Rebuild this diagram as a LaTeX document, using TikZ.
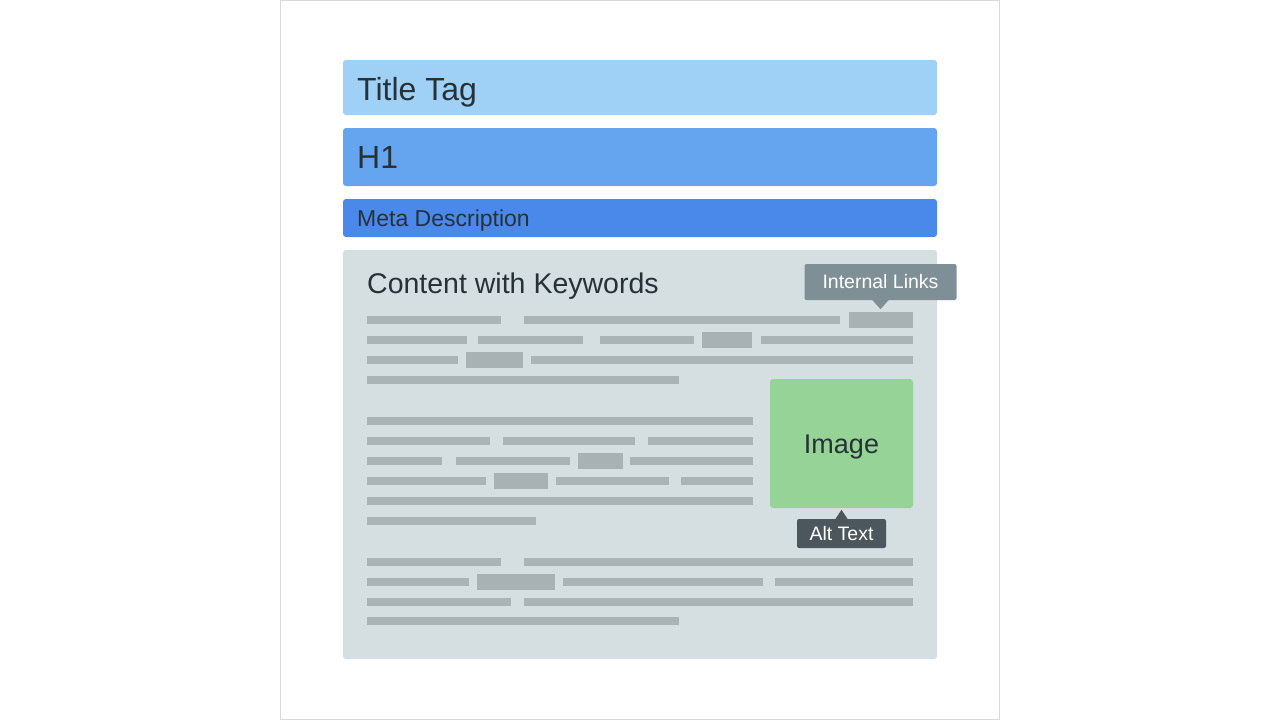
\documentclass[tikz,border=0pt]{standalone}
\usepackage{fontspec}
\setmainfont{Liberation Sans}

\definecolor{pageline}{HTML}{DADADA}
\definecolor{titleblue}{HTML}{9FD1F6}
\definecolor{hblue}{HTML}{65A5EF}
\definecolor{metablue}{HTML}{4A89E9}
\definecolor{panelgray}{HTML}{D5DEE1}
\definecolor{linegray}{HTML}{AAB3B6}
\definecolor{keygray}{HTML}{A8B2B5}
\definecolor{imagegreen}{HTML}{96D396}
\definecolor{linkgray}{HTML}{7F8F96}
\definecolor{altdark}{HTML}{4B575D}
\definecolor{inkdark}{HTML}{263238}

\tikzset{
  bar/.style={draw=none,rounded corners=3pt,inner sep=0pt},
  barlabel/.style={anchor=base west,text=inkdark,inner sep=0pt},
  tip/.style={draw=none,rounded corners=2pt,inner sep=0pt,text=white,
    font=\fontsize{19.5}{22}\selectfont},
  textline/.style={fill=linegray},
  keyword/.style={fill=keygray}
}

\begin{document}
\begin{tikzpicture}[x=1pt,y=-1pt]

% Rahmen
\useasboundingbox (0,0) rectangle (1280,720);
\draw[pageline,line width=1pt] (280.5,0.5) rectangle (999.5,719.5);

% Kopfbereich
\node[bar,fill=titleblue,minimum width=594pt,minimum height=55pt] (title) at (640,87.5) {};
\node[barlabel,font=\fontsize{32}{37}\selectfont] (titletext) at (357,100) {Title Tag};

\node[bar,fill=hblue,minimum width=594pt,minimum height=58pt] (hone) at (640,157) {};
\node[barlabel,font=\fontsize{32}{37}\selectfont] (honetext) at (357,168) {H1};

\node[bar,fill=metablue,minimum width=594pt,minimum height=38pt] (meta) at (640,218) {};
\node[barlabel,font=\fontsize{23}{27}\selectfont] (metatext) at (357,226) {Meta Description};

% Inhalt
\node[bar,fill=panelgray,minimum width=594pt,minimum height=409pt] (content) at (640,454.5) {};
\node[barlabel,font=\fontsize{28.5}{33}\selectfont] (contenttext) at (367,293) {Content with Keywords};

% Textzeilen
\foreach \a/\b/\y in {367/501/320, 524/840/320,
  367/467/340, 478/583/340, 600/694/340, 761/913/340,
  367/458/360, 531/913/360,
  367/679/380,
  367/753/421,
  367/490/441, 503/635/441, 648/753/441,
  367/442/461, 456/570/461, 630/753/461,
  367/486/481, 556/669/481, 681/753/481,
  367/753/501,
  367/536/521,
  367/501/562, 524/913/562,
  367/469/582, 563/763/582, 775/913/582,
  367/511/602, 524/913/602,
  367/679/621}
  \fill[textline] (\a,{\y-4}) rectangle (\b,{\y+4});

% Schluesselwoerter
\foreach \a/\b/\y in {849/913/320, 702/752/340, 466/523/360,
  578/623/461, 494/548/481, 477/555/582}
  \fill[keyword] (\a,{\y-8}) rectangle (\b,{\y+8});

% Bild
\node[bar,fill=imagegreen,minimum width=143pt,minimum height=129pt] (image) at (841.5,443.5) {};
\node[text=inkdark,font=\fontsize{27}{32}\selectfont,anchor=base,inner sep=0pt] (imagetext) at (841.5,453) {Image};

% Hinweise
\node[tip,fill=linkgray,minimum width=152pt,minimum height=36pt] (links) at (880.5,282) {Internal Links};
\fill[linkgray] ([xshift=-8pt]links.south) -- ([yshift=-9pt]links.south) -- ([xshift=8pt]links.south) -- cycle;

\node[tip,fill=altdark,minimum width=89pt,minimum height=29pt] (alt) at (841.5,533.5) {Alt Text};
\fill[altdark] ([xshift=-6pt]alt.north) -- ([yshift=9pt]alt.north) -- ([xshift=6pt]alt.north) -- cycle;

\end{tikzpicture}
\end{document}
